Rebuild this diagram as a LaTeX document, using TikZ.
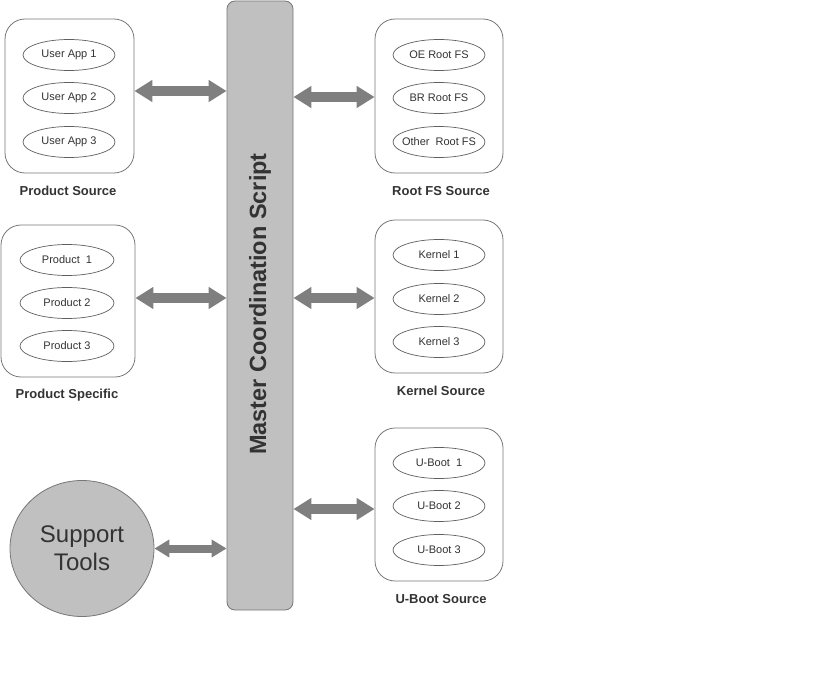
\documentclass[tikz,border=0pt]{standalone}
\usepackage{fontspec}
\setmainfont{Liberation Sans}
\usetikzlibrary{shapes.geometric,arrows.meta}
\definecolor{barfill}{HTML}{C0C0C0}
\definecolor{txt}{HTML}{333333}
\definecolor{edge}{HTML}{777777}
\definecolor{arr}{HTML}{7F7F7F}
\tikzset{
  grp/.style={draw=edge, line width=0.8pt, rounded corners=20pt, fill=white, minimum width=#1, inner sep=0pt},
  item/.style={draw=edge!80!black, line width=0.7pt, ellipse, minimum width=92pt, minimum height=31pt, inner sep=0pt, text=txt, font=\fontsize{11}{13}\selectfont},
  caplabel/.style={text=txt, font=\fontsize{13}{15}\selectfont\bfseries},
  dblarrow/.style={draw=arr, line width=10pt, {Triangle[length=18pt,width=21pt]}-{Triangle[length=18pt,width=21pt]}},
  smallarrow/.style={draw=arr, line width=8pt, {Triangle[length=15pt,width=17pt]}-{Triangle[length=15pt,width=17pt]}}
}
\newcommand{\zw}[1]{\makebox[0pt]{#1}}
\begin{document}
\begin{tikzpicture}[x=1pt,y=-1pt]
\useasboundingbox (0,0) rectangle (836,677);

% master bar
\node[draw=edge, line width=0.8pt, fill=barfill, rounded corners=8pt, minimum width=66pt, minimum height=609pt, inner sep=0pt] (master) at (260,305.5) {};
\node[rotate=90, text=txt, font=\fontsize{23.5}{27}\selectfont\bfseries] (mtext) at (260,304) {Master Coordination Script};

% Product Source
\node[grp=129pt, minimum height=154pt] (psbox) at (69.5,96) {};
\node[item] (ua1) at (69,55) {\zw{User App 1}};
\node[item] (ua2) at (69,98) {\zw{User App 2}};
\node[item] (ua3) at (69,142) {\zw{User App 3}};
\node[caplabel] (pslabel) at (68,191) {Product Source};

% Root FS Source
\node[grp=128pt, minimum height=154pt] (rfbox) at (439,96) {};
\node[item] (rf1) at (439,55) {\zw{OE Root FS}};
\node[item] (rf2) at (439,98) {\zw{BR Root FS}};
\node[item] (rf3) at (439,142) {\zw{Other~~Root FS}};
\node[caplabel] (rflabel) at (441,191) {Root FS Source};

% Product Specific
\node[grp=134pt, minimum height=152pt] (spbox) at (68,301) {};
\node[item, minimum width=94pt] (p1) at (67,260) {\zw{Product~~1}};
\node[item, minimum width=94pt] (p2) at (67,303) {\zw{Product 2}};
\node[item, minimum width=94pt] (p3) at (67,346) {\zw{Product 3}};
\node[caplabel] (splabel) at (67,395) {Product Specific};

% Kernel Source
\node[grp=128pt, minimum height=153pt] (kbox) at (439,296.5) {};
\node[item] (k1) at (439,255) {\zw{Kernel 1}};
\node[item] (k2) at (439,299) {\zw{Kernel 2}};
\node[item] (k3) at (439,342) {\zw{Kernel 3}};
\node[caplabel] (klabel) at (441,391) {Kernel Source};

% U-Boot Source
\node[grp=128pt, minimum height=153pt] (ubox) at (439,504.5) {};
\node[item] (u1) at (439,463) {\zw{U-Boot~~1}};
\node[item] (u2) at (439,506) {\zw{U-Boot 2}};
\node[item] (u3) at (439,550) {\zw{U-Boot 3}};
\node[caplabel] (ulabel) at (441,599) {U-Boot Source};

% Support Tools
\node[draw=edge, line width=0.8pt, fill=barfill, ellipse, minimum width=144pt, minimum height=136pt, inner sep=0pt, text=txt, font=\fontsize{24}{28}\selectfont, align=center] (tools) at (82,548.5) {Support\\Tools};

% connectors
\draw[dblarrow] ([yshift=5pt]psbox.east) -- ([yshift=5pt]psbox.east -| master.west);
\draw[dblarrow] ([yshift=-1pt]rfbox.west -| master.east) -- ([yshift=-1pt]rfbox.west);
\draw[dblarrow] ([yshift=3pt]spbox.east) -- ([yshift=3pt]spbox.east -| master.west);
\draw[dblarrow] ([yshift=-1.5pt]kbox.west -| master.east) -- ([yshift=-1.5pt]kbox.west);
\draw[dblarrow] ([yshift=-4.5pt]ubox.west -| master.east) -- ([yshift=-4.5pt]ubox.west);
\draw[smallarrow] (tools.east) -- (tools.east -| master.west);
\end{tikzpicture}
\end{document}
